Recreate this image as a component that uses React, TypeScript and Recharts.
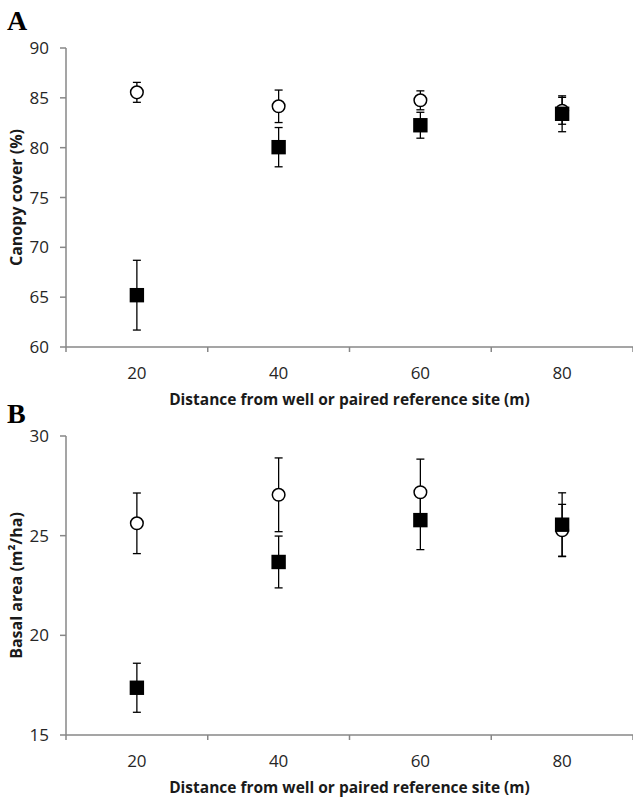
import React from 'react';
import { ScatterChart, Scatter, XAxis, YAxis, ErrorBar } from 'recharts';

// ---- data ----
const distances = [20, 40, 60, 80];
const categoryBoundaries = [10, 30, 50, 70, 90];

const canopyReference = [85.55, 84.15, 84.75, 83.7];
const canopyReferenceErr = [1.0, 1.63, 0.95, 1.35];
const canopyWell = [65.2, 80.05, 82.25, 83.4];
const canopyWellErr = [3.5, 1.97, 1.3, 1.8];
const canopyTicks = [60, 65, 70, 75, 80, 85, 90];

const basalReference = [25.62, 27.05, 27.18, 25.27];
const basalReferenceErr = [1.52, 1.85, 1.66, 1.3];
const basalWell = [17.37, 23.68, 25.78, 25.55];
const basalWellErr = [1.23, 1.3, 1.48, 1.6];
const basalTicks = [15, 20, 25, 30];

const xTitle = 'Distance from well or paired reference site (m)';

// ---- styles ----
const FONT = '"Open Sans", sans-serif';
const AXIS = '#878787';
const W = 633;
const H = 410;

const toRows = (vals: number[], errs: number[]) =>
  distances.map((d, i) => ({ x: d, y: vals[i], err: errs[i] }));

const XTick = (props: any) => {
  const { x, y, payload } = props;
  const v = payload.value;
  if (distances.includes(v)) {
    return (
      <text x={x} y={y + 25} textAnchor="middle" dominantBaseline="central" fill="#262626" fontSize={17} fontFamily={FONT}>
        {v}
      </text>
    );
  }
  return <line x1={x} y1={y} x2={x} y2={y + 5} stroke={AXIS} strokeWidth={1.5} />;
};

const CircleShape = (props: any) => {
  const { cx, cy } = props;
  return <circle cx={cx} cy={cy} r={6.3} fill="#fff" stroke="#000" strokeWidth={1.5} />;
};

const SquareShape = (props: any) => {
  const { cx, cy } = props;
  return <rect x={cx - 7.2} y={cy - 7.2} width={14.4} height={14.4} fill="#000" />;
};

const YTitle = (title: React.ReactNode) => (props: any) => {
  const vb = props.viewBox;
  const cy = vb.y + vb.height / 2;
  return (
    <text
      transform={`translate(${vb.x + 16}, ${cy}) rotate(-90)`}
      textAnchor="middle"
      dominantBaseline="central"
      fontFamily={FONT}
      fontWeight="bold"
      fontSize={16}
      fill="#1a1a1a"
    >
      {title}
    </text>
  );
};

const XTitle = (props: any) => {
  const vb = props.viewBox;
  return (
    <text
      x={vb.x + vb.width / 2}
      y={vb.y + 52}
      textAnchor="middle"
      dominantBaseline="central"
      fontFamily={FONT}
      fontWeight="bold"
      fontSize={15.5}
      fill="#1a1a1a"
    >
      {xTitle}
    </text>
  );
};

function Panel(props: {
  reference: number[];
  referenceErr: number[];
  well: number[];
  wellErr: number[];
  ticks: number[];
  title: React.ReactNode;
}) {
  const { reference, referenceErr, well, wellErr, ticks, title } = props;
  return (
    <ScatterChart width={W} height={H} margin={{ top: 48, right: 0, bottom: 3, left: 0 }} style={{ overflow: 'visible' }}>
      <XAxis
        type="number"
        dataKey="x"
        domain={[categoryBoundaries[0], categoryBoundaries[categoryBoundaries.length - 1]]}
        ticks={[...categoryBoundaries, ...distances].sort((a, b) => a - b)}
        interval={0}
        tickSize={0}
        tickMargin={0}
        tickLine={false}
        tick={<XTick />}
        axisLine={{ stroke: AXIS, strokeWidth: 1.5 }}
        height={60}
        label={{ content: XTitle }}
      />
      <YAxis
        type="number"
        dataKey="y"
        domain={[ticks[0], ticks[ticks.length - 1]]}
        ticks={ticks}
        interval={0}
        width={66}
        tickSize={6}
        tickMargin={11}
        tickLine={{ stroke: AXIS, strokeWidth: 1.5 }}
        axisLine={{ stroke: AXIS, strokeWidth: 1.5 }}
        tick={{ fill: '#262626', fontSize: 17, fontFamily: FONT }}
        label={{ content: YTitle(title) }}
      />
      <Scatter data={toRows(reference, referenceErr)} shape={<CircleShape />} isAnimationActive={false}>
        <ErrorBar dataKey="err" direction="y" width={4} stroke="#000" strokeWidth={1.3} isAnimationActive={false} />
      </Scatter>
      <Scatter data={toRows(well, wellErr)} shape={<SquareShape />} isAnimationActive={false}>
        <ErrorBar dataKey="err" direction="y" width={4} stroke="#000" strokeWidth={1.3} isAnimationActive={false} />
      </Scatter>
    </ScatterChart>
  );
}

const Letter = ({ text, top }: { text: string; top: number }) => (
  <svg width={40} height={40} style={{ position: 'absolute', left: 0, top }}>
    <text x={7} y={30} fontFamily='"Liberation Serif", "DejaVu Serif", serif' fontWeight="bold" fontSize={28} fill="#000">
      {text}
    </text>
  </svg>
);

export default function App() {
  return (
    <div style={{ position: 'absolute', left: 0, top: 0, width: 633, height: 798, background: '#fff', overflow: 'hidden' }}>
      <div style={{ position: 'absolute', left: 0, top: 0 }}>
        <Panel
          reference={canopyReference}
          referenceErr={canopyReferenceErr}
          well={canopyWell}
          wellErr={canopyWellErr}
          ticks={canopyTicks}
          title="Canopy cover (%)"
        />
      </div>
      <div style={{ position: 'absolute', left: 0, top: 388 }}>
        <Panel
          reference={basalReference}
          referenceErr={basalReferenceErr}
          well={basalWell}
          wellErr={basalWellErr}
          ticks={basalTicks}
          title="Basal area (m²/ha)"
        />
      </div>
      <Letter text="A" top={0} />
      <Letter text="B" top={393} />
    </div>
  );
}
